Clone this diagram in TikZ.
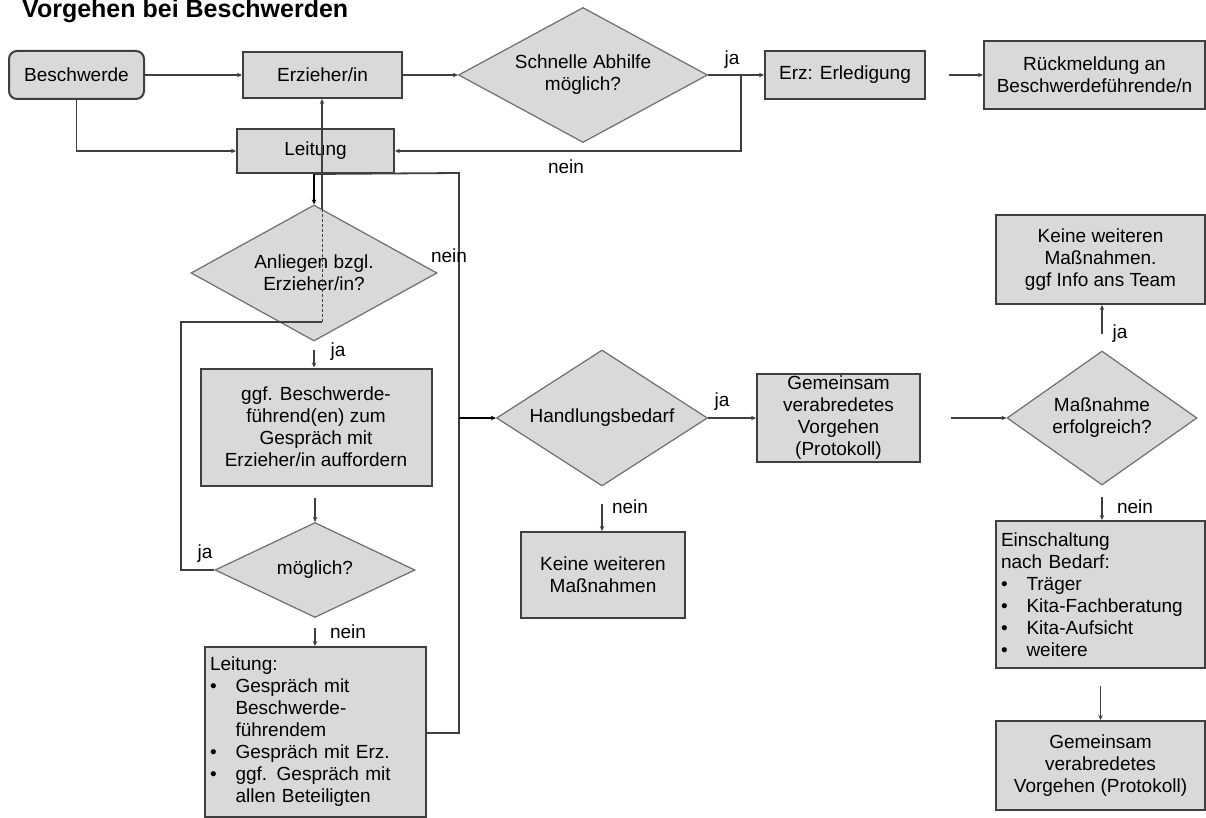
\documentclass[tikz,border=0pt]{standalone}
\usepackage{fontspec}
\setmainfont{Liberation Sans}
\usetikzlibrary{shapes.geometric,arrows.meta}
\definecolor{boxfill}{HTML}{D9D9D9}
\definecolor{edgec}{HTML}{3F3F3F}
\definecolor{diac}{HTML}{6E6E6E}
\newcommand\lbul{\makebox[25.5pt][l]{•}}
\newcommand\lind{\hspace*{25.5pt}}
\begin{document}
\begin{tikzpicture}[x=1pt,y=-1pt,
  txt/.style={font=\fontsize{19}{22}\selectfont},
  box/.style={txt, draw=edgec, fill=boxfill, line width=2pt, inner sep=0pt, align=center},
  dia/.style={txt, shape=diamond, draw=diac, fill=boxfill, line width=1.2pt, inner sep=0pt, align=center},
  conn/.style={draw=edgec, line width=1.8pt, -{Stealth[length=5pt,width=4.5pt]}},
  thickconn/.style={conn, draw=black, line width=2.6pt},
  plain/.style={draw=edgec, line width=1.8pt},
  lbl/.style={txt, inner sep=0pt, anchor=base}]
\useasboundingbox (0,0) rectangle (1206,818);
\fill[white] (0,0) rectangle (1206,818);

\node[anchor=base west, inner sep=0pt, font=\fontsize{25}{28}\selectfont\bfseries] (title) at (22,18) {Vorgehen bei Beschwerden};

\node[box, rounded corners=8pt, minimum width=135pt, minimum height=48pt] (besch) at (76.5,75) {Beschwerde};
\node[box, minimum width=159pt, minimum height=46pt] (erz) at (322.5,75) {Erzieher/in};
\node[dia, minimum width=249pt, minimum height=135pt, shape aspect=1.84] (sch) at (583,75) {Schnelle Abhilfe\\möglich?};
\node[box, minimum width=160pt, minimum height=48pt] (erl) at (845,75) {Erz: Erledigung};
\node[box, minimum width=221pt, minimum height=68pt] (rm) at (1094.5,75) {Rückmeldung an\\Beschwerdeführende/n};
\node[box, minimum width=157pt, minimum height=44pt] (lei) at (315.5,151) {Leitung};
\node[dia, minimum width=246pt, minimum height=136pt, shape aspect=1.8] (anl) at (314,273) {Anliegen bzgl.\\Erzieher/in?};
\node[box, minimum width=231pt, minimum height=117pt] (ggf) at (316,427) {ggf. Beschwerde-\\führend(en) zum\\Gespräch mit\\Erzieher/in auffordern};
\node[dia, minimum width=200pt, minimum height=95pt, shape aspect=2.1] (mog) at (315,570) {möglich?};
\node[box, minimum width=221pt, minimum height=170pt, align=left, text width=211pt] (lb) at (315.5,732) {Leitung:\\\lbul Gespräch mit\\\lind Beschwerde-\\\lind führendem\\\lbul Gespräch mit Erz.\\\lbul ggf. Gespräch mit\\\lind allen Beteiligten};
\node[dia, minimum width=211pt, minimum height=136pt, shape aspect=1.55] (hb) at (602,418) {Handlungsbedarf};
\node[box, minimum width=163pt, minimum height=88pt] (gv1) at (838.5,418) {Gemeinsam\\verabredetes\\Vorgehen\\(Protokoll)};
\node[box, minimum width=164pt, minimum height=86pt] (kwm1) at (603,575) {Keine weiteren\\Maßnahmen};
\node[dia, minimum width=190pt, minimum height=134pt, shape aspect=1.42] (me) at (1102,418) {Maßnahme\\erfolgreich?};
\node[box, minimum width=209pt, minimum height=89pt] (kwm2) at (1100.5,259.5) {Keine weiteren\\Maßnahmen.\\ggf Info ans Team};
\node[box, minimum width=209pt, minimum height=147pt, align=left, text width=199pt] (ein) at (1100.5,594.5) {Einschaltung\\nach Bedarf:\\\lbul Träger\\\lbul Kita-Fachberatung\\\lbul Kita-Aufsicht\\\lbul weitere};
\node[box, minimum width=209pt, minimum height=89pt] (gv2) at (1100.5,765.5) {Gemeinsam\\verabredetes\\Vorgehen (Protokoll)};

% connectors
\draw[conn] (besch.east) -- (erz.west);
\draw[conn] (besch.south) |- (lei.west);
\draw[conn] (erz.east) -- (sch.west);
\draw[conn] (sch.east) -- (erl.west);
\coordinate (j2) at (741,75);
\draw[conn] (j2) |- (lei.east);
\draw[conn, shorten <=23pt] (erl.east) -- (rm.west);

\coordinate (j1) at (anl.north |- lei.south);
\draw[thickconn] (j1) -- (anl.north);
\coordinate (c1) at (459,173);
\coordinate (c2) at (459,733);
\coordinate (c3) at (459,418);
\draw[plain] (j1) -- (c1) -- (c2) -- (c2 -| lb.east);
\draw[thickconn] (c3) -- (hb.west);

\draw[conn, shorten <=8pt] (anl.south) -- (anl.south |- ggf.north);
\draw[conn, shorten <=11pt] (mog.north |- ggf.south) -- (mog.north);
\draw[conn, shorten <=10pt] (mog.south) -- (mog.south |- lb.north);

\coordinate (l1) at (181,570);
\coordinate (l2) at (322,322);
\coordinate (l3) at (322,209);
\draw[plain] (mog.west) -- (l1) |- (l2);
\draw[draw=edgec, line width=1pt, dash pattern=on 3pt off 2pt] (l2) -- (l3);
\draw[conn] (l3) -- (l3 |- erz.south);

\draw[conn] (hb.east) -- (gv1.west);
\draw[conn, shorten <=17pt] (hb.south) -- (hb.south |- kwm1.north);
\draw[conn, shorten <=30pt] (gv1.east) -- (me.west);
\draw[conn, shorten <=16pt] (me.north) -- (me.north |- kwm2.south);
\draw[conn, shorten <=11pt] (me.south) -- (me.south |- ein.north);
\draw[conn, shorten <=17pt] (ein.south) -- (gv2.north);

% labels
\node[lbl] (lja1) at (732,65) {ja};
\node[lbl] (lnein1) at (566,174) {nein};
\node[lbl] (lnein2) at (449,262) {nein};
\node[lbl] (lja2) at (338,356) {ja};
\node[lbl] (lja3) at (205,558) {ja};
\node[lbl] (lnein3) at (348,638) {nein};
\node[lbl] (lja4) at (722,406) {ja};
\node[lbl] (lnein4) at (630,513) {nein};
\node[lbl] (lja5) at (1120,338) {ja};
\node[lbl] (lnein5) at (1135,513) {nein};
\end{tikzpicture}
\end{document}
